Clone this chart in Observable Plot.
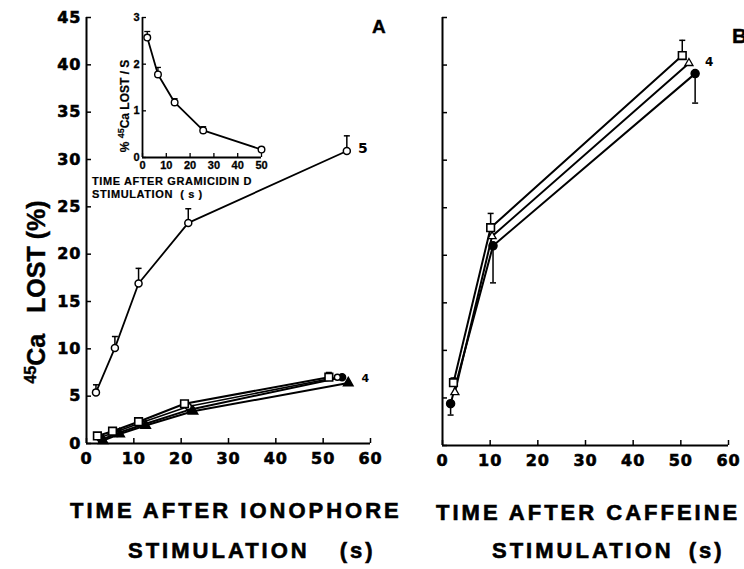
<!DOCTYPE html>
<html><head><meta charset="utf-8">
<script src="https://cdn.jsdelivr.net/npm/d3@7"></script>
<script src="https://cdn.jsdelivr.net/npm/@observablehq/plot@0.6"></script>
<style>
body{margin:0;background:#fff;}
#wrap{position:relative;width:744px;height:569px;overflow:hidden;font-family:"Liberation Sans",Arial,sans-serif;font-weight:bold;color:#000;background:#fff}
#wrap svg{position:absolute;}
.lab{position:absolute;white-space:nowrap;line-height:1;font-weight:bold;-webkit-text-stroke:0.4px #000;}
.big{font-size:22px;letter-spacing:3px;-webkit-text-stroke:0.6px #000;}
.rot{transform:translate(-50%,-50%) rotate(-90deg);}
.main-ticks text{font-weight:bold;}
.main-ticks [aria-label*="tick label"] text{letter-spacing:1px;stroke:#000;stroke-width:0.6px;}
.inset-ticks [aria-label*="tick label"] text{font-weight:bold;stroke:#000;stroke-width:0.3px;}
</style></head><body><div id="wrap"></div>
<script>
// ---------- Panel A: ionophore ----------
const ionoX   = [2, 6, 11, 21.5, 55];
const ionoY   = [5.4, 10.1, 16.9, 23.3, 30.9];
const ionoErr = [0.8, 1.2, 1.6, 1.5, 1.6];
const ionoN   = "5";

// low series in panel A (controls), n = 4
const sqA_x = [2.3, 5.5, 11, 20.7, 51.2];
const sqA_y = [0.8, 1.3, 2.3, 4.2, 7.0];
const ocA_x = [2.8, 6, 11.5, 21.5, 53];
const ocA_y = [0.6, 1.2, 2.2, 3.9, 7.0];
const fcA_x = [3.2, 6.5, 12, 22, 54];
const fcA_y = [0.4, 1.1, 2.0, 3.6, 7.0];
const trA_x = [3.5, 7, 12.5, 22.5, 55.3];
const trA_y = [0.3, 1.0, 1.9, 3.4, 6.4];
const lowN  = "4";

// ---------- Panel B: caffeine ----------
const sqB_x = [2.3, 10.1, 50.3];
const sqB_y = [6.6, 22.9, 41.0];
const sqB_err = [0.5, 1.5, 1.6];
const ocB_x = [2.6, 10.4, 51.7];
const ocB_y = [5.6, 22.0, 40.2];
const fcB_x = [1.7, 10.6, 53];
const fcB_y = [4.4, 21.0, 39.1];
const fcB_errDown = [1.2, 3.9, 3.1];
const caffN = "4";

// ---------- Inset: gramicidin D ----------
const insX = [2, 6.5, 13.5, 25.5, 50];
const insY = [2.57, 1.78, 1.18, 0.58, 0.17];
const insErr = [0.13, 0.15, 0.08, 0.08, 0];

// ticks
const mainXTicks = [0, 10, 20, 30, 40, 50, 60];
const mainYTicks = [0, 5, 10, 15, 20, 25, 30, 35, 40, 45];
const insXTicks = [0, 10, 20, 30, 40, 50];
const insYTicks = [0, 1, 2, 3];

const rows = (xs, ys) => xs.map((x, i) => ({x, y: ys[i]}));
const errUp = (xs, ys, es) => xs.map((x, i) => ({x, y1: ys[i], y2: ys[i] + es[i]})).filter(d => d.y2 > d.y1);
const errDown = (xs, ys, es) => xs.map((x, i) => ({x, y1: ys[i], y2: ys[i] - es[i]})).filter(d => d.y2 < d.y1);
const capSym = {draw(ctx, size) { const w = Math.sqrt(size / Math.PI); ctx.moveTo(-w, 0); ctx.lineTo(w, 0); }};
const F = "DejaVu Sans, sans-serif";

function errMarks(data, sw = 1.5) {
  return [
    Plot.ruleX(data, {x: "x", y1: "y1", y2: "y2", strokeWidth: sw}),
    Plot.dot(data, {x: "x", y: "y2", symbol: capSym, r: 3, stroke: "black", strokeWidth: sw})
  ];
}
function axesMarks(xt, yt, tsz) {
  return [
    Plot.ruleX([0], {strokeWidth: 2}),
    Plot.ruleY([0], {strokeWidth: 2}),
    Plot.axisX(xt, {tickSize: -tsz, tickFormat: () => "", strokeWidth: 1.5, label: null}),
    Plot.axisY(yt, {tickSize: -tsz, tickFormat: () => "", strokeWidth: 1.5, label: null})
  ];
}

// Panel A
const A = Plot.plot({
  width: 380, height: 480, marginLeft: 86, marginRight: 10, marginTop: 17, marginBottom: 37,
  x: {domain: [0, 60]}, y: {domain: [0, 45]},
  className: "main-ticks",
  style: {background: "none", fontFamily: F, overflow: "visible"},
  marks: [
    ...axesMarks(mainXTicks, mainYTicks, 5),
    Plot.axisX(mainXTicks, {tickSize: 0, tickPadding: 9, fontSize: 16, fontWeight: "bold", label: null}),
    Plot.axisY(mainYTicks, {tickSize: 0, tickPadding: 5, fontSize: 16, fontWeight: "bold", label: null}),
    // ionophore series
    Plot.line(rows(ionoX, ionoY), {x: "x", y: "y", strokeWidth: 1.8}),
    ...errMarks(errUp(ionoX, ionoY, ionoErr)),
    Plot.dot(rows(ionoX, ionoY), {x: "x", y: "y", r: 3.5, fill: "white", stroke: "black", strokeWidth: 1.5}),
    Plot.text([rows(ionoX, ionoY).at(-1)], {x: "x", y: "y", text: () => ionoN, dx: 16, dy: -2, fontSize: 14, fontWeight: "bold"}),
    // controls
    Plot.line(rows(trA_x, trA_y), {x: "x", y: "y", strokeWidth: 2}),
    Plot.line(rows(fcA_x, fcA_y), {x: "x", y: "y", strokeWidth: 2}),
    Plot.line(rows(ocA_x, ocA_y), {x: "x", y: "y", strokeWidth: 1.6}),
    Plot.line(rows(sqA_x, sqA_y), {x: "x", y: "y", strokeWidth: 2}),
    ...errMarks(errUp([sqA_x[4]], [sqA_y[4]], [0.5])),
    Plot.dot(rows(trA_x, trA_y), {x: "x", y: "y", symbol: "triangle", r: 3.5, fill: "black", stroke: "black"}),
    Plot.dot(rows(fcA_x, fcA_y), {x: "x", y: "y", r: 3.5, fill: "black", stroke: "black"}),
    Plot.dot(rows(ocA_x, ocA_y), {x: "x", y: "y", r: 3, fill: "white", stroke: "black", strokeWidth: 1.5}),
    Plot.dot(rows(sqA_x, sqA_y), {x: "x", y: "y", symbol: "square", r: 4.3, fill: "white", stroke: "black", strokeWidth: 1.6}),
    Plot.text([rows(trA_x, trA_y).at(-1)], {x: "x", y: "y", text: () => lowN, dx: 17, dy: -4, fontSize: 11, fontWeight: "bold"})
  ]
});
A.style.left = "0px"; A.style.top = "0px";

// Panel B
const B = Plot.plot({
  width: 364, height: 480, marginLeft: 62, marginRight: 16, marginTop: 17, marginBottom: 35,
  x: {domain: [0, 60]}, y: {domain: [0, 45]},
  className: "main-ticks",
  style: {background: "none", fontFamily: F, overflow: "visible"},
  marks: [
    ...axesMarks(mainXTicks, mainYTicks, 5),
    Plot.axisX(mainXTicks, {tickSize: 0, tickPadding: 9, fontSize: 16, fontWeight: "bold", label: null}),
    Plot.line(rows(fcB_x, fcB_y), {x: "x", y: "y", strokeWidth: 2}),
    Plot.line(rows(ocB_x, ocB_y), {x: "x", y: "y", strokeWidth: 2}),
    Plot.line(rows(sqB_x, sqB_y), {x: "x", y: "y", strokeWidth: 2}),
    ...errMarks(errUp(sqB_x, sqB_y, sqB_err)),
    ...errMarks(errDown(fcB_x, fcB_y, fcB_errDown)),
    Plot.dot(rows(fcB_x, fcB_y), {x: "x", y: "y", r: 4, fill: "black", stroke: "black"}),
    Plot.dot(rows(ocB_x, ocB_y), {x: "x", y: "y", symbol: "triangle", r: 3, fill: "white", stroke: "black", strokeWidth: 1.3}),
    Plot.dot(rows(sqB_x, sqB_y), {x: "x", y: "y", symbol: "square", r: 4.3, fill: "white", stroke: "black", strokeWidth: 1.6}),
    Plot.text([rows(sqB_x, sqB_y).at(-1)], {x: "x", y: "y", text: () => caffN, dx: 27, dy: 7, fontSize: 12, fontWeight: "bold"})
  ]
});
B.style.left = "380px"; B.style.top = "0px";

// Inset
const I = Plot.plot({
  width: 180, height: 200, marginLeft: 42, marginRight: 19, marginTop: 17, marginBottom: 43,
  x: {domain: [0, 50]}, y: {domain: [0, 3]},
  className: "inset-ticks",
  style: {background: "none", fontFamily: "Liberation Sans, sans-serif", overflow: "visible"},
  marks: [
    Plot.ruleX([0], {strokeWidth: 1.8}),
    Plot.ruleY([0], {strokeWidth: 1.8}),
    Plot.axisX(insXTicks, {tickSize: -4, tickFormat: () => "", strokeWidth: 1.3, label: null}),
    Plot.axisY(insYTicks, {tickSize: -4, tickFormat: () => "", strokeWidth: 1.3, label: null}),
    Plot.axisX(insXTicks, {tickSize: 0, tickPadding: 4, fontSize: 11, fontWeight: "bold", label: null}),
    Plot.axisY(insYTicks, {tickSize: 0, tickPadding: 3, fontSize: 11, fontWeight: "bold", label: null}),
    Plot.line(rows(insX, insY), {x: "x", y: "y", strokeWidth: 1.8}),
    ...errMarks(errUp(insX, insY, insErr), 1.3),
    Plot.dot(rows(insX, insY), {x: "x", y: "y", r: 3.3, fill: "white", stroke: "black", strokeWidth: 1.4})
  ]
});
I.style.left = "100px"; I.style.top = "0px";

const wrap = document.getElementById("wrap");
wrap.append(A, B, I);

function label(html, css, cls = "lab") {
  const d = document.createElement("div");
  d.className = cls;
  d.innerHTML = html;
  Object.assign(d.style, css);
  wrap.append(d);
  return d;
}
// main y label
label('<span style="font-size:16px;position:relative;top:-9px">45</span>Ca&nbsp;&nbsp; LOST (%)',
  {left: "36px", top: "292px", fontSize: "25px"}, "lab rot");
// inset y label
label('%&nbsp;<span style="font-size:9px;position:relative;top:-5px">45</span>Ca LOST / S',
  {left: "125px", top: "106px", fontSize: "12px", webkitTextStroke: "0.2px #000"}, "lab rot");
// inset x label
label('TIME AFTER GRAMICIDIN D', {left: "92px", top: "176px", fontSize: "11px", letterSpacing: "0.6px", webkitTextStroke: "0.2px #000"});
label('STIMULATION&nbsp; ( s )', {left: "92px", top: "189px", fontSize: "11px", letterSpacing: "0.6px", webkitTextStroke: "0.2px #000"});
// panel letters
label('A', {left: "372px", top: "17px", fontSize: "19px"});
label('B', {left: "732px", top: "25px", fontSize: "21px"});
// bottom titles
label('TIME AFTER IONOPHORE', {left: "70px", top: "500px"}, "lab big");
label('STIMULATION<span style="margin-left:30px">(s)</span>', {left: "128px", top: "540px"}, "lab big");
label('TIME AFTER CAFFEINE', {left: "436px", top: "502px"}, "lab big");
label('STIMULATION<span style="margin-left:15px">(s)</span>', {left: "492px", top: "540px"}, "lab big");
</script></body></html>
